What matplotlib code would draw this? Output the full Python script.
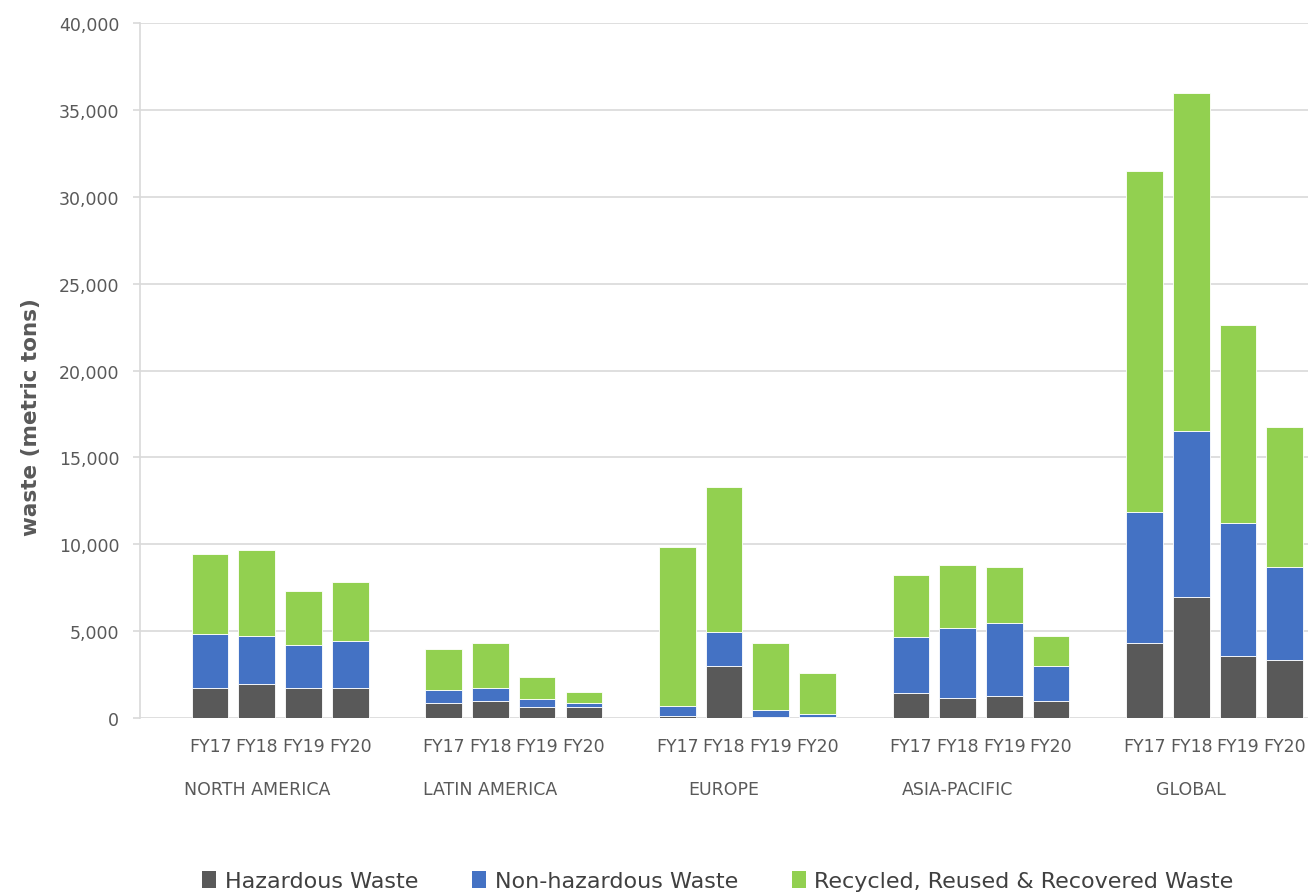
import matplotlib
matplotlib.use('Agg')
import matplotlib.pyplot as plt
from matplotlib.ticker import FuncFormatter, MultipleLocator
from matplotlib.patches import Patch
import numpy as np

regions = ['NORTH AMERICA', 'LATIN AMERICA', 'EUROPE', 'ASIA-PACIFIC', 'GLOBAL']
years = ['FY17', 'FY18', 'FY19', 'FY20']

# metric tons (rows = regions, cols = years)
hazardous = [[1730, 1940, 1730, 1730],
             [880, 980, 650, 650],
             [120, 3010, 40, 30],
             [1430, 1140, 1240, 980],
             [4310, 6950, 3570, 3350]]
non_hazardous = [[3110, 2790, 2480, 2690],
                 [750, 770, 450, 230],
                 [550, 1930, 420, 220],
                 [3230, 4020, 4240, 2030],
                 [7550, 9600, 7660, 5320]]
recycled = [[4610, 4940, 3090, 3420],
            [2360, 2550, 1280, 640],
            [9200, 8340, 3830, 2350],
            [3600, 3640, 3210, 1730],
            [19630, 19410, 11420, 8100]]

series = ['Hazardous Waste', 'Non-hazardous Waste', 'Recycled, Reused & Recovered Waste']
colors = ['#595959', '#4472C4', '#92D050']
grey = '#595959'

haz = np.array(hazardous)
non = np.array(non_hazardous)
rec = np.array(recycled)

fig = plt.figure(figsize=(13.08, 8.95), dpi=100)
ax = fig.add_axes([140/1308, 1-719/895, 1-140/1308, (719-24.3)/895])

# each region takes 5 slots, first one left empty (like the excel layout)
slots = len(years) + 1
x = np.array([[g*slots + 1 + j for j in range(len(years))] for g in range(len(regions))])
w = 0.785
ax.bar(x.ravel(), haz.ravel(), w, color=colors[0], edgecolor='white', linewidth=0.6, zorder=3)
ax.bar(x.ravel(), non.ravel(), w, bottom=haz.ravel(), color=colors[1], edgecolor='white', linewidth=0.6, zorder=3)
ax.bar(x.ravel(), rec.ravel(), w, bottom=(haz+non).ravel(), color=colors[2], edgecolor='white', linewidth=0.6, zorder=3)

ax.set_xlim(-0.5, len(regions)*slots - 0.5)
ax.set_ylim(0, 40000)
ax.yaxis.set_major_locator(MultipleLocator(5000))
ax.yaxis.set_major_formatter(FuncFormatter(lambda v, p: f'{int(v):,}'))
ax.grid(axis='y', color='#d9d9d9', linewidth=1.2, zorder=0)
for s in ['top', 'right', 'bottom']:
    ax.spines[s].set_visible(False)
ax.spines['left'].set_color('#d9d9d9')
ax.spines['left'].set_linewidth(1.2)
ax.tick_params(axis='y', colors='#d9d9d9', length=5, width=1.2, labelcolor=grey, labelsize=12.5, pad=10)

ax.set_xticks(x.ravel())
ax.set_xticklabels(years*len(regions))
ax.tick_params(axis='x', length=0, labelcolor=grey, labelsize=12.5, pad=14)

for g, r in enumerate(regions):
    ax.text(g*slots + (slots-1)/2, -4100, r, ha='center', va='center', color=grey, fontsize=12.5)

ax.set_ylabel('waste (metric tons)', fontsize=15.5, color=grey, fontweight='bold')
ax.yaxis.set_label_coords(-0.085, 0.435)

handles = [Patch(facecolor=c, edgecolor='none') for c in colors]
fig.legend(handles, series, loc='center', bbox_to_anchor=(718/1308, 1-882/895), ncol=3, frameon=False,
           handlelength=0.6, handleheight=0.85, handletextpad=0.4, columnspacing=2.45,
           prop={'size': 16}, labelcolor='#404040')

fig.savefig('out.png', dpi=100)
